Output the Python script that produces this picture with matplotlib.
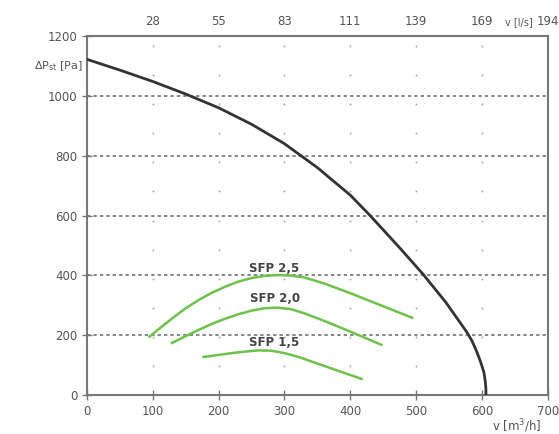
import numpy as np
import matplotlib.pyplot as plt

# fan curve, v [m3/h] vs static pressure [Pa]
fan_v = [0, 50, 100, 150, 200, 250, 300, 350, 400, 430, 475, 510, 545, 577, 585, 592, 598, 603, 605, 606, 606]
fan_p = [1122, 1086, 1048, 1006, 960, 905, 840, 760, 668, 600, 492, 405, 310, 210, 180, 145, 110, 75, 45, 20, 0]

# SFP curves
sfp25_v = [95, 110, 130, 150, 170, 190, 210, 230, 250, 270, 290, 310, 330, 360, 398, 430, 460, 494]
sfp25_p = [195, 222, 257, 290, 318, 342, 362, 379, 391, 398, 401, 399, 393, 373, 342, 314, 288, 258]
sfp20_v = [129, 150, 170, 190, 210, 230, 250, 270, 290, 310, 330, 360, 400, 447]
sfp20_p = [174, 197, 218, 238, 255, 270, 282, 290, 292, 287, 273, 248, 212, 168]
sfp15_v = [177, 200, 220, 240, 260, 280, 300, 323, 350, 380, 417]
sfp15_p = [127, 134, 140, 145, 149, 148, 140, 126, 105, 82, 54]
sfp_labels = ["SFP 2,5", "SFP 2,0", "SFP 1,5"]
sfp_label_pos = [(285, 424), (285, 321), (285, 174)]

x_ticks = [0, 100, 200, 300, 400, 500, 600, 700]
y_ticks = [0, 200, 400, 600, 800, 1000, 1200]
top_ticks = [100, 200, 300, 400, 500, 600, 700]
top_labels = ["28", "55", "83", "111", "139", "169", "194"]

grey = "#555555"
fig = plt.figure(figsize=(5.59, 4.34), dpi=100)
ax = fig.add_axes([0.1556, 0.0899, 0.8244, 0.8271])
ax.set_xlim(0, 700)
ax.set_ylim(0, 1200)

# grid: dotted horizontals + point grid
for y in [200, 400, 600, 800, 1000]:
    ax.axhline(y, color="#666666", lw=1.1, ls=(0, (2.2, 2.0)), zorder=1)
dx, dy = np.meshgrid([100, 200, 300, 400, 500, 600], np.arange(1, 13) * 97.2)
ax.scatter(dx.ravel(), dy.ravel(), s=2, color="#aaaaaa", zorder=1, linewidths=0)

ax.plot(fan_v, fan_p, color="#333333", lw=2, zorder=3, solid_joinstyle="round")
green = "#6cc24a"
for v, p in [(sfp25_v, sfp25_p), (sfp20_v, sfp20_p), (sfp15_v, sfp15_p)]:
    ax.plot(v, p, color=green, lw=1.8, zorder=2, solid_joinstyle="round")
for lab, (x, y) in zip(sfp_labels, sfp_label_pos):
    ax.text(x, y, lab, ha="center", va="center", fontsize=8.5, fontweight="bold", color="#444444", zorder=4)

for s in ax.spines.values():
    s.set_color("#777777")
    s.set_linewidth(1.5)
ax.set_xticks(x_ticks)
ax.set_yticks(y_ticks)
ax.tick_params(direction="inout", length=7, width=1, colors="#777777", labelcolor=grey, labelsize=8.5)

ax2 = ax.twiny()
ax2.set_xlim(ax.get_xlim())
ax2.set_xticks(top_ticks)
ax2.set_xticklabels(top_labels)
ax2.tick_params(length=0, pad=6, labelcolor=grey, labelsize=8.5)
for s in ax2.spines.values():
    s.set_visible(False)

ax.text(-6, 1100, r"$\Delta$P$_{\mathrm{st}}$ [Pa]", ha="right", va="center", fontsize=8, color=grey)
ax.text(656, 1247, "v [l/s]", ha="center", va="center", fontsize=7, color=grey, clip_on=False)
ax.text(653, -104, "v [m$^3$/h]", ha="center", va="center", fontsize=8.5, color=grey, clip_on=False)

fig.savefig("out.png", dpi=100)
